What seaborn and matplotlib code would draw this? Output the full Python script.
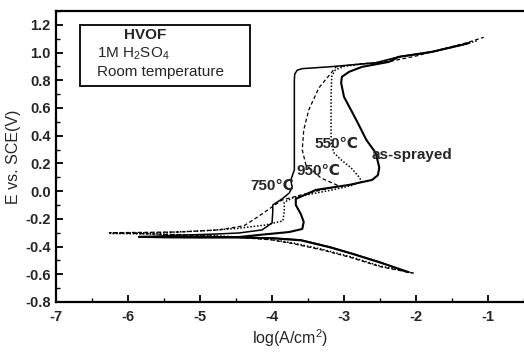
import matplotlib
matplotlib.use("Agg")
import matplotlib.pyplot as plt
import numpy as np
import pandas as pd
import seaborn as sns
from matplotlib.patches import Rectangle
from matplotlib.ticker import MultipleLocator, FormatStrFormatter

# ---- data: log current density (log A/cm2) and potential (V vs SCE) ----
AS_LOGI = [-2.10, -2.50, -2.90, -3.20, -3.60, -4.00, -4.50, -5.00, -5.50, -5.85,
           -5.50, -5.00, -4.46, -4.18, -3.76, -3.58, -3.56, -3.60, -3.67, -3.67,
           -3.39, -2.93, -2.61, -2.53, -2.51, -2.56, -2.69, -2.83, -3.00, -3.04,
           -3.03, -2.93, -2.75, -2.375, -2.24, -1.78, -1.36, -1.26]
AS_E = [-0.585, -0.515, -0.450, -0.405, -0.355, -0.340, -0.334, -0.332, -0.331, -0.330,
        -0.333, -0.334, -0.331, -0.316, -0.295, -0.273, -0.222, -0.165, -0.100, -0.056,
        0.009, 0.045, 0.081, 0.115, 0.170, 0.276, 0.370, 0.514, 0.680, 0.781,
        0.825, 0.861, 0.897, 0.933, 0.969, 1.005, 1.056, 1.070]

T750_LOGI = [-2.12, -2.50, -2.90, -3.20, -3.60, -4.00, -4.50, -5.00, -5.50, -5.85,
             -5.30, -4.80, -4.46, -4.14, -4.00, -3.99, -3.99, -3.86, -3.76, -3.72,
             -3.74, -3.69, -3.69, -3.69, -3.685, -3.65, -3.58, -3.21, -2.56, -2.24,
             -1.78, -1.36, -1.28]
T750_E = [-0.585, -0.512, -0.448, -0.402, -0.352, -0.338, -0.333, -0.331, -0.330, -0.330,
          -0.318, -0.310, -0.302, -0.280, -0.230, -0.150, -0.100, -0.056, -0.013, 0.030,
          0.080, 0.153, 0.514, 0.800, 0.845, 0.873, 0.884, 0.897, 0.926, 0.969,
          1.005, 1.056, 1.066]

T550_LOGI = [-2.05, -2.50, -2.90, -3.30, -3.70, -4.00, -4.50, -5.00, -5.60, -6.25,
             -5.50, -5.00, -4.50, -4.10, -3.85, -3.83, -3.83, -3.70, -3.45, -3.15,
             -2.90, -2.76, -2.78, -2.90, -3.05, -3.14, -3.18, -3.18, -3.18, -3.17,
             -3.12, -3.00, -2.75, -2.56, -2.24, -1.78, -1.36, -1.15]
T550_E = [-0.590, -0.540, -0.475, -0.420, -0.375, -0.350, -0.330, -0.318, -0.310, -0.305,
          -0.298, -0.288, -0.270, -0.245, -0.215, -0.150, -0.080, -0.045, -0.020, 0.010,
          0.040, 0.066, 0.095, 0.167, 0.230, 0.276, 0.350, 0.500, 0.700, 0.830,
          0.875, 0.900, 0.918, 0.926, 0.969, 1.005, 1.056, 1.085]

T950_LOGI = [-2.03, -2.50, -2.90, -3.30, -3.70, -4.00, -4.50, -5.00, -5.60, -6.26,
             -5.29, -4.74, -4.39, -4.21, -4.00, -3.86, -3.49, -3.07, -3.32, -3.53,
             -3.58, -3.56, -3.49, -3.35, -3.11, -2.79, -2.375, -2.00, -1.60, -1.30,
             -1.06]
T950_E = [-0.592, -0.545, -0.480, -0.425, -0.380, -0.352, -0.332, -0.320, -0.310, -0.300,
          -0.295, -0.280, -0.250, -0.190, -0.114, -0.064, -0.013, 0.037, 0.095, 0.190,
          0.297, 0.440, 0.586, 0.745, 0.897, 0.918, 0.935, 0.975, 1.030, 1.070,
          1.110]

CURVE_NAMES = ["as-sprayed", "750", "550", "950"]
X_TICKS = [-7, -6, -5, -4, -3, -2, -1]
Y_TICKS = [-0.8, -0.6, -0.4, -0.2, 0.0, 0.2, 0.4, 0.6, 0.8, 1.0, 1.2]

sns.set_theme(style="ticks")
plt.rcParams["font.family"] = ["Liberation Sans", "DejaVu Sans"]
plt.rcParams["mathtext.fontset"] = "custom"
plt.rcParams["mathtext.rm"] = "Liberation Sans"
plt.rcParams["mathtext.it"] = "Liberation Sans:italic"
plt.rcParams["mathtext.bf"] = "Liberation Sans:bold"
plt.rcParams["axes.unicode_minus"] = False

fig = plt.figure(figsize=(5.24, 3.56), dpi=100)
ax = fig.add_axes([0.107, 0.1517, 0.893, 0.8174])

curves = {
    "as-sprayed": (AS_LOGI, AS_E, dict(linewidth=1.5, linestyle="-")),
    "750": (T750_LOGI, T750_E, dict(linewidth=1.1, linestyle="-")),
    "550": (T550_LOGI, T550_E, dict(linewidth=1.1, linestyle=(0, (1, 1.2)))),
    "950": (T950_LOGI, T950_E, dict(linewidth=0.9, linestyle=(0, (3, 2)))),
}
for name in CURVE_NAMES:
    lx, ly, st = curves[name]
    df = pd.DataFrame({"logi": lx, "E": ly})
    sns.lineplot(data=df, x="logi", y="E", sort=False, estimator=None,
                 color="black", ax=ax, **st)

ax.set_xlim(-7, -0.5)
ax.set_ylim(-0.8, 1.3)
ax.set_xticks(X_TICKS)
ax.set_yticks(Y_TICKS)
ax.xaxis.set_minor_locator(MultipleLocator(0.5))
ax.yaxis.set_minor_locator(MultipleLocator(0.1))
ax.yaxis.set_major_formatter(FormatStrFormatter("%.1f"))
ax.xaxis.set_major_formatter(FormatStrFormatter("%d"))
ax.tick_params(which="both", direction="in", top=False, right=False, color="black")
ax.tick_params(which="major", length=5, width=1.3, labelsize=10.5, pad=4)
ax.tick_params(which="minor", length=3, width=1.0)
ax.tick_params(axis="x", which="major", pad=6)
for lab in ax.get_xticklabels() + ax.get_yticklabels():
    lab.set_fontweight("bold")

for s in ["left", "bottom", "top"]:
    ax.spines[s].set_linewidth(1.6)
    ax.spines[s].set_color("black")
ax.spines["right"].set_visible(False)

ax.set_xlabel("log(A/cm$^2$)", fontsize=11.5, labelpad=2)
ax.set_ylabel("E vs. SCE(V)", fontsize=11.5, labelpad=3)

# info box
ax.add_patch(Rectangle((0.051, 0.742), 0.364, 0.210, transform=ax.transAxes,
                       fill=False, edgecolor="black", linewidth=1.3))
ax.text(0.19, 0.917, "HVOF", transform=ax.transAxes, ha="center", va="center",
        fontsize=11, fontweight="bold")
ax.text(0.088, 0.852, "1M H$_2$SO$_4$", transform=ax.transAxes, ha="left",
        va="center", fontsize=11)
ax.text(0.088, 0.792, "Room temperature", transform=ax.transAxes, ha="left",
        va="center", fontsize=11)

# curve labels
ax.text(-3.11, 0.34, "550℃", ha="center", va="center", fontsize=11, fontweight="bold")
ax.text(-3.36, 0.146, "950℃", ha="center", va="center", fontsize=11, fontweight="bold")
ax.text(-4.00, 0.037, "750℃", ha="center", va="center", fontsize=11, fontweight="bold")
ax.text(-2.62, 0.262, "as-sprayed", ha="left", va="center", fontsize=11,
        fontweight="bold")

fig.savefig("out.png", dpi=100)
